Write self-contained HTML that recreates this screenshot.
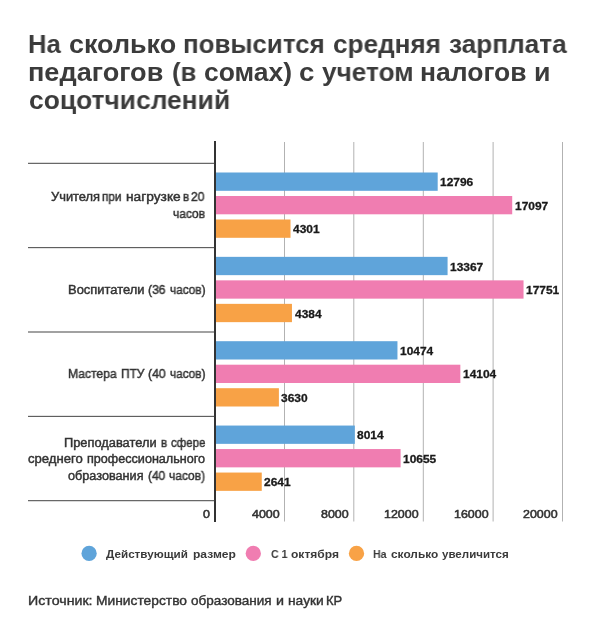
<!DOCTYPE html>
<html lang="ru"><head><meta charset="utf-8"><title>chart</title>
<style>
html,body{margin:0;padding:0;background:#fff;}
body{width:600px;height:638px;position:relative;overflow:hidden;font-family:"Liberation Sans",sans-serif;color:#333;}
.x{position:absolute;white-space:nowrap;line-height:1;transform-origin:0 0;will-change:transform;}
</style></head><body>

<svg width="600" height="638" viewBox="0 0 600 638" style="position:absolute;left:0;top:0;">
<rect x="284.00" y="142" width="1" height="379.5" fill="#b2b2b2"/>
<rect x="353.30" y="142" width="1" height="379.5" fill="#b2b2b2"/>
<rect x="422.80" y="142" width="1" height="379.5" fill="#b2b2b2"/>
<rect x="492.60" y="142" width="1" height="379.5" fill="#b2b2b2"/>
<rect x="562.00" y="142" width="1" height="379.5" fill="#b2b2b2"/>
<rect x="214" y="141" width="2" height="381" fill="#333"/>
<rect x="28" y="162.80" width="186.5" height="1" fill="#444"/>
<rect x="28" y="247.15" width="186.5" height="1" fill="#444"/>
<rect x="28" y="331.50" width="186.5" height="1" fill="#444"/>
<rect x="28" y="415.85" width="186.5" height="1" fill="#444"/>
<rect x="28" y="500.20" width="186.5" height="1" fill="#444"/>
<rect x="216" y="172.50" width="221.69" height="18.30" fill="#5fa4da"/>
<rect x="216" y="196.00" width="296.21" height="18.30" fill="#f07db1"/>
<rect x="216" y="219.50" width="74.51" height="18.30" fill="#f8a246"/>
<rect x="216" y="256.85" width="231.58" height="18.30" fill="#5fa4da"/>
<rect x="216" y="280.35" width="307.54" height="18.30" fill="#f07db1"/>
<rect x="216" y="303.85" width="75.95" height="18.30" fill="#f8a246"/>
<rect x="216" y="341.20" width="181.46" height="18.30" fill="#5fa4da"/>
<rect x="216" y="364.70" width="244.35" height="18.30" fill="#f07db1"/>
<rect x="216" y="388.20" width="62.89" height="18.30" fill="#f8a246"/>
<rect x="216" y="425.55" width="138.84" height="18.30" fill="#5fa4da"/>
<rect x="216" y="449.05" width="184.60" height="18.30" fill="#f07db1"/>
<rect x="216" y="472.55" width="45.76" height="18.30" fill="#f8a246"/>
<circle cx="89.10" cy="553.4" r="7.65" fill="#5fa4da"/>
<circle cx="253.30" cy="553.4" r="7.65" fill="#f07db1"/>
<circle cx="356.50" cy="553.4" r="7.65" fill="#f8a246"/>
</svg>
<div class="x" style="left:28.41px;top:29px;line-height:30px;font-size:26.5px;font-weight:bold;color:#3b3b3b;transform:scaleX(0.9643);">На</div>
<div class="x" style="left:69.28px;top:29px;line-height:30px;font-size:26.5px;font-weight:bold;color:#3b3b3b;transform:scaleX(1.0169);">сколько</div>
<div class="x" style="left:182.99px;top:29px;line-height:30px;font-size:26.5px;font-weight:bold;color:#3b3b3b;transform:scaleX(0.9774);">повысится</div>
<div class="x" style="left:333.21px;top:29px;line-height:30px;font-size:26.5px;font-weight:bold;color:#3b3b3b;transform:scaleX(0.9859);">средняя</div>
<div class="x" style="left:449.26px;top:29px;line-height:30px;font-size:26.5px;font-weight:bold;color:#3b3b3b;transform:scaleX(0.9890);">зарплата</div>
<div class="x" style="left:28.31px;top:57px;line-height:30px;font-size:26.5px;font-weight:bold;color:#3b3b3b;transform:scaleX(1.0224);">педагогов</div>
<div class="x" style="left:172.49px;top:57px;line-height:30px;font-size:26.5px;font-weight:bold;color:#3b3b3b;transform:scaleX(0.9714);">(в</div>
<div class="x" style="left:203.50px;top:57px;line-height:30px;font-size:26.5px;font-weight:bold;color:#3b3b3b;transform:scaleX(0.9971);">сомах)</div>
<div class="x" style="left:298.65px;top:57px;line-height:30px;font-size:26.5px;font-weight:bold;color:#3b3b3b;transform:scaleX(1.0462);">с</div>
<div class="x" style="left:321.75px;top:57px;line-height:30px;font-size:26.5px;font-weight:bold;color:#3b3b3b;transform:scaleX(0.9890);">учетом</div>
<div class="x" style="left:419.95px;top:57px;line-height:30px;font-size:26.5px;font-weight:bold;color:#3b3b3b;transform:scaleX(0.9986);">налогов</div>
<div class="x" style="left:534.03px;top:57px;line-height:30px;font-size:26.5px;font-weight:bold;color:#3b3b3b;transform:scaleX(1.0118);">и</div>
<div class="x" style="left:28.80px;top:85px;line-height:30px;font-size:26.5px;font-weight:bold;color:#3b3b3b;transform:scaleX(0.9960);">соцотчислений</div>
<div class="x" style="left:50.80px;top:190px;line-height:14px;font-size:12.5px;font-weight:normal;color:#333;-webkit-text-stroke:0.45px #333;transform:scaleX(1.0298);">Учителя</div>
<div class="x" style="left:101.79px;top:190px;line-height:14px;font-size:12.5px;font-weight:normal;color:#333;-webkit-text-stroke:0.45px #333;transform:scaleX(0.9403);">при</div>
<div class="x" style="left:125.88px;top:190px;line-height:14px;font-size:12.5px;font-weight:normal;color:#333;-webkit-text-stroke:0.45px #333;transform:scaleX(1.0995);">нагрузке</div>
<div class="x" style="left:182.78px;top:190px;line-height:14px;font-size:12.5px;font-weight:normal;color:#333;-webkit-text-stroke:0.45px #333;transform:scaleX(0.9200);">в</div>
<div class="x" style="left:191.42px;top:190px;line-height:14px;font-size:12.5px;font-weight:normal;color:#333;-webkit-text-stroke:0.45px #333;transform:scaleX(0.9585);">20</div>
<div class="x" style="left:172.72px;top:207px;line-height:14px;font-size:12.5px;font-weight:normal;color:#333;-webkit-text-stroke:0.45px #333;transform:scaleX(0.9588);">часов</div>
<div class="x" style="left:68.42px;top:283px;line-height:14px;font-size:12.5px;font-weight:normal;color:#333;-webkit-text-stroke:0.45px #333;transform:scaleX(1.0345);">Воспитатели</div>
<div class="x" style="left:147.82px;top:283px;line-height:14px;font-size:12.5px;font-weight:normal;color:#333;-webkit-text-stroke:0.45px #333;transform:scaleX(0.9681);">(36</div>
<div class="x" style="left:169.53px;top:283px;line-height:14px;font-size:12.5px;font-weight:normal;color:#333;-webkit-text-stroke:0.45px #333;transform:scaleX(0.9452);">часов)</div>
<div class="x" style="left:68.37px;top:367px;line-height:14px;font-size:12.5px;font-weight:normal;color:#333;-webkit-text-stroke:0.45px #333;transform:scaleX(0.9688);">Мастера</div>
<div class="x" style="left:120.59px;top:367px;line-height:14px;font-size:12.5px;font-weight:normal;color:#333;-webkit-text-stroke:0.45px #333;transform:scaleX(0.9526);">ПТУ</div>
<div class="x" style="left:147.91px;top:367px;line-height:14px;font-size:12.5px;font-weight:normal;color:#333;-webkit-text-stroke:0.45px #333;transform:scaleX(0.9797);">(40</div>
<div class="x" style="left:169.53px;top:367px;line-height:14px;font-size:12.5px;font-weight:normal;color:#333;-webkit-text-stroke:0.45px #333;transform:scaleX(0.9425);">часов)</div>
<div class="x" style="left:63.93px;top:436px;line-height:14px;font-size:12.5px;font-weight:normal;color:#333;-webkit-text-stroke:0.45px #333;transform:scaleX(1.0265);">Преподаватели</div>
<div class="x" style="left:160.58px;top:436px;line-height:14px;font-size:12.5px;font-weight:normal;color:#333;-webkit-text-stroke:0.45px #333;transform:scaleX(0.9200);">в</div>
<div class="x" style="left:170.77px;top:436px;line-height:14px;font-size:12.5px;font-weight:normal;color:#333;-webkit-text-stroke:0.45px #333;transform:scaleX(0.9200);">сфере</div>
<div class="x" style="left:28.44px;top:452px;line-height:14px;font-size:12.5px;font-weight:normal;color:#333;-webkit-text-stroke:0.45px #333;transform:scaleX(1.0493);">среднего</div>
<div class="x" style="left:86.74px;top:452px;line-height:14px;font-size:12.5px;font-weight:normal;color:#333;-webkit-text-stroke:0.45px #333;transform:scaleX(1.0086);">профессионального</div>
<div class="x" style="left:68.05px;top:469px;line-height:14px;font-size:12.5px;font-weight:normal;color:#333;-webkit-text-stroke:0.45px #333;transform:scaleX(1.0129);">образования</div>
<div class="x" style="left:147.52px;top:469px;line-height:14px;font-size:12.5px;font-weight:normal;color:#333;-webkit-text-stroke:0.45px #333;transform:scaleX(0.9565);">(40</div>
<div class="x" style="left:169.02px;top:469px;line-height:14px;font-size:12.5px;font-weight:normal;color:#333;-webkit-text-stroke:0.45px #333;transform:scaleX(0.9589);">часов)</div>
<div class="x" style="left:440.29px;top:176px;line-height:12px;font-size:11.5px;font-weight:bold;color:#1a1a1a;-webkit-text-stroke:0.30px #1a1a1a;transform:scaleX(1.0400);">12796</div>
<div class="x" style="left:514.81px;top:200px;line-height:12px;font-size:11.5px;font-weight:bold;color:#1a1a1a;-webkit-text-stroke:0.30px #1a1a1a;transform:scaleX(1.0400);">17097</div>
<div class="x" style="left:293.11px;top:223px;line-height:12px;font-size:11.5px;font-weight:bold;color:#1a1a1a;-webkit-text-stroke:0.30px #1a1a1a;transform:scaleX(1.0400);">4301</div>
<div class="x" style="left:450.18px;top:261px;line-height:12px;font-size:11.5px;font-weight:bold;color:#1a1a1a;-webkit-text-stroke:0.30px #1a1a1a;transform:scaleX(1.0400);">13367</div>
<div class="x" style="left:526.14px;top:284px;line-height:12px;font-size:11.5px;font-weight:bold;color:#1a1a1a;-webkit-text-stroke:0.30px #1a1a1a;transform:scaleX(1.0400);">17751</div>
<div class="x" style="left:294.55px;top:308px;line-height:12px;font-size:11.5px;font-weight:bold;color:#1a1a1a;-webkit-text-stroke:0.30px #1a1a1a;transform:scaleX(1.0400);">4384</div>
<div class="x" style="left:400.06px;top:345px;line-height:12px;font-size:11.5px;font-weight:bold;color:#1a1a1a;-webkit-text-stroke:0.30px #1a1a1a;transform:scaleX(1.0400);">10474</div>
<div class="x" style="left:462.95px;top:368px;line-height:12px;font-size:11.5px;font-weight:bold;color:#1a1a1a;-webkit-text-stroke:0.30px #1a1a1a;transform:scaleX(1.0400);">14104</div>
<div class="x" style="left:281.49px;top:392px;line-height:12px;font-size:11.5px;font-weight:bold;color:#1a1a1a;-webkit-text-stroke:0.30px #1a1a1a;transform:scaleX(1.0400);">3630</div>
<div class="x" style="left:357.44px;top:429px;line-height:12px;font-size:11.5px;font-weight:bold;color:#1a1a1a;-webkit-text-stroke:0.30px #1a1a1a;transform:scaleX(1.0400);">8014</div>
<div class="x" style="left:403.20px;top:453px;line-height:12px;font-size:11.5px;font-weight:bold;color:#1a1a1a;-webkit-text-stroke:0.30px #1a1a1a;transform:scaleX(1.0400);">10655</div>
<div class="x" style="left:264.36px;top:476px;line-height:12px;font-size:11.5px;font-weight:bold;color:#1a1a1a;-webkit-text-stroke:0.30px #1a1a1a;transform:scaleX(1.0400);">2641</div>
<div class="x" style="left:203.25px;top:508px;line-height:12px;font-size:11.5px;font-weight:normal;color:#333;-webkit-text-stroke:0.55px #333;transform:scaleX(1.0800);">0</div>
<div class="x" style="left:251.96px;top:508px;line-height:12px;font-size:11.5px;font-weight:normal;color:#333;-webkit-text-stroke:0.55px #333;transform:scaleX(1.0800);">4000</div>
<div class="x" style="left:321.46px;top:508px;line-height:12px;font-size:11.5px;font-weight:normal;color:#333;-webkit-text-stroke:0.55px #333;transform:scaleX(1.0800);">8000</div>
<div class="x" style="left:384.21px;top:508px;line-height:12px;font-size:11.5px;font-weight:normal;color:#333;-webkit-text-stroke:0.55px #333;transform:scaleX(1.0800);">12000</div>
<div class="x" style="left:453.71px;top:508px;line-height:12px;font-size:11.5px;font-weight:normal;color:#333;-webkit-text-stroke:0.55px #333;transform:scaleX(1.0800);">16000</div>
<div class="x" style="left:523.21px;top:508px;line-height:12px;font-size:11.5px;font-weight:normal;color:#333;-webkit-text-stroke:0.55px #333;transform:scaleX(1.0800);">20000</div>
<div class="x" style="left:106.30px;top:548px;line-height:12px;font-size:11.5px;font-weight:bold;color:#3a3a3a;transform:scaleX(1.0150);">Действующий</div>
<div class="x" style="left:192.51px;top:548px;line-height:12px;font-size:11.5px;font-weight:bold;color:#3a3a3a;transform:scaleX(1.0491);">размер</div>
<div class="x" style="left:270.72px;top:548px;line-height:12px;font-size:11.5px;font-weight:bold;color:#3a3a3a;transform:scaleX(0.9200);">С 1</div>
<div class="x" style="left:291.18px;top:548px;line-height:12px;font-size:11.5px;font-weight:bold;color:#3a3a3a;transform:scaleX(1.0472);">октября</div>
<div class="x" style="left:373.32px;top:548px;line-height:12px;font-size:11.5px;font-weight:bold;color:#3a3a3a;transform:scaleX(0.9200);">На</div>
<div class="x" style="left:390.78px;top:548px;line-height:12px;font-size:11.5px;font-weight:bold;color:#3a3a3a;transform:scaleX(1.0324);">сколько</div>
<div class="x" style="left:442.25px;top:548px;line-height:12px;font-size:11.5px;font-weight:bold;color:#3a3a3a;transform:scaleX(1.0046);">увеличится</div>
<div class="x" style="left:28.38px;top:593px;line-height:15px;font-size:13px;font-weight:normal;color:#333;-webkit-text-stroke:0.40px #333;transform:scaleX(1.0922);">Источник:</div>
<div class="x" style="left:95.90px;top:593px;line-height:15px;font-size:13px;font-weight:normal;color:#333;-webkit-text-stroke:0.40px #333;transform:scaleX(1.0619);">Министерство</div>
<div class="x" style="left:191.44px;top:593px;line-height:15px;font-size:13px;font-weight:normal;color:#333;-webkit-text-stroke:0.40px #333;transform:scaleX(1.0405);">образования</div>
<div class="x" style="left:276.01px;top:593px;line-height:15px;font-size:13px;font-weight:normal;color:#333;-webkit-text-stroke:0.40px #333;transform:scaleX(1.1000);">и</div>
<div class="x" style="left:287.50px;top:593px;line-height:15px;font-size:13px;font-weight:normal;color:#333;-webkit-text-stroke:0.40px #333;transform:scaleX(1.0605);">науки</div>
<div class="x" style="left:326.27px;top:593px;line-height:15px;font-size:13px;font-weight:normal;color:#333;-webkit-text-stroke:0.40px #333;transform:scaleX(0.9800);">КР</div>
</body></html>
